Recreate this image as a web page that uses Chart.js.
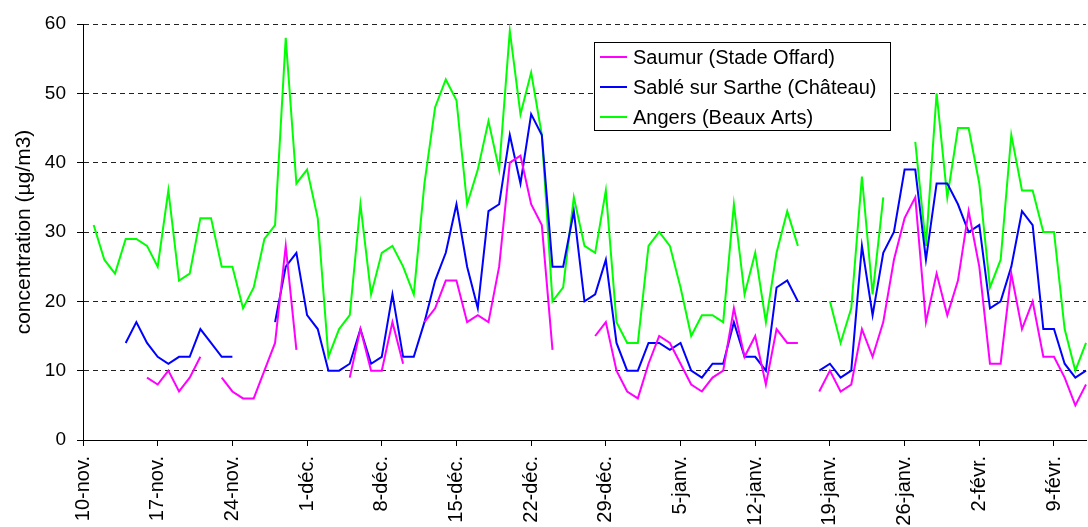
<!DOCTYPE html>
<html>
<head>
<meta charset="utf-8">
<script src="https://cdn.jsdelivr.net/npm/chart.js@4/dist/chart.umd.min.js"></script>
<style>
  body { margin: 0; background: #fff; overflow: hidden; }
  canvas { display: block; }
</style>
</head>
<body>
<canvas id="chart" width="1088" height="527"></canvas>
<script>
// daily measurements from 10-nov. to 12-févr.
const monthSpans = [["nov.", 10, 30], ["déc.", 1, 31], ["janv.", 1, 31], ["févr.", 1, 12]];
const days = [];
monthSpans.forEach(m => {
  for (let d = m[1]; d <= m[2]; d++) days.push(d + "-" + m[0]);
});

const seriesNames = ["Saumur (Stade Offard)", "Sablé sur Sarthe (Château)", "Angers (Beaux Arts)"];
const seriesColors = ["#ff00ff", "#0000ff", "#00ff00"];

const saumur = [
  null, null, null, null, null, null, 9, 8, 10, 7,
  9, 12, null, 9, 7, 6, 6, 10, 14, 28,
  13, null, null, null, null, 9, 16, 10, 10, 17,
  11, null, 17, 19, 23, 23, 17, 18, 17, 25,
  40, 41, 34, 31, 13, null, null, null, 15, 17,
  10, 7, 6, 11, 15, 14, 11, 8, 7, 9,
  10, 19, 12, 15, 8, 16, 14, 14, null, 7,
  10, 7, 8, 16, 12, 17, 26, 32, 35, 17,
  24, 18, 23, 33, 25, 11, 11, 24, 16, 20,
  12, 12, 9, 5, 8
];

const sable = [
  null, null, null, null, 14, 17, 14, 12, 11, 12,
  12, 16, 14, 12, 12, null, null, null, 17, 25,
  27, 18, 16, 10, 10, 11, 16, 11, 12, 21,
  12, 12, 17, 23, 27, 34, 25, 19, 33, 34,
  44, 37, 47, 44, 25, 25, 33, 20, 21, 26,
  14, 10, 10, 14, 14, 13, 14, 10, 9, 11,
  11, 17, 12, 12, 10, 22, 23, 20, null, 10,
  11, 9, 10, 28, 18, 27, 30, 39, 39, 26,
  37, 37, 34, 30, 31, 19, 20, 25, 33, 31,
  16, 16, 11, 9, 10
];

const angers = [
  null, 31, 26, 24, 29, 29, 28, 25, 36, 23,
  24, 32, 32, 25, 25, 19, 22, 29, 31, 58,
  37, 39, 32, 12, 16, 18, 34, 21, 27, 28,
  25, 21, 37, 48, 52, 49, 34, 39, 46, 39,
  59, 47, 53, 44, 20, 22, 35, 28, 27, 36,
  17, 14, 14, 28, 30, 28, 22, 15, 18, 18,
  17, 34, 21, 27, 17, 27, 33, 28, null, null,
  20, 14, 19, 38, 21, 35, null, null, 43, 28,
  50, 35, 45, 45, 37, 22, 26, 44, 36, 36,
  30, 30, 16, 10, 14
];

const yTicks = [0, 10, 20, 30, 40, 50, 60];
const FONT = "'Liberation Sans', Arial, sans-serif";

// legend box drawn inside the plot, like the original
const boxLegend = {
  id: "boxLegend",
  afterDraw(chart) {
    const ctx = chart.ctx;
    const x = 594, y = 42, w = 296, h = 88;
    ctx.save();
    ctx.fillStyle = "#fff";
    ctx.fillRect(x, y, w, h);
    ctx.strokeStyle = "#000";
    ctx.lineWidth = 1;
    ctx.strokeRect(x + 0.5, y + 0.5, w, h);
    ctx.font = "20px " + FONT;
    ctx.textBaseline = "middle";
    chart.data.datasets.forEach((ds, i) => {
      const cy = 57 + i * 30;
      ctx.strokeStyle = ds.borderColor;
      ctx.lineWidth = 2;
      ctx.beginPath();
      ctx.moveTo(x + 6, cy);
      ctx.lineTo(x + 33, cy);
      ctx.stroke();
      ctx.fillStyle = "#000";
      ctx.fillText(ds.label, x + 39, cy + 1);
    });
    ctx.restore();
  }
};

new Chart(document.getElementById("chart"), {
  type: "line",
  data: {
    labels: days,
    datasets: [saumur, sable, angers].map((vals, i) => ({
      label: seriesNames[i],
      data: vals,
      borderColor: seriesColors[i],
      backgroundColor: seriesColors[i],
      borderWidth: 2,
      pointRadius: 0,
      tension: 0,
      spanGaps: false
    }))
  },
  options: {
    responsive: false,
    animation: false,
    devicePixelRatio: 1,
    layout: { padding: { top: 24, right: 2, left: 0, bottom: 0 } },
    plugins: { legend: { display: false }, tooltip: { enabled: false } },
    scales: {
      x: {
        offset: false,
        afterFit(s) { s.height = 87; s.paddingLeft = 0; s.paddingRight = 0; },
        grid: {
          drawOnChartArea: false,
          drawTicks: true,
          tickLength: 6,
          color: c => (c.index % 7 === 0 ? "#000" : "rgba(0,0,0,0)")
        },
        border: { color: "#000", width: 1 },
        ticks: {
          autoSkip: false,
          minRotation: 90,
          maxRotation: 90,
          padding: 10,
          color: "#000",
          font: { family: FONT, size: 20 },
          callback: (v, i) => (i % 7 === 0 ? days[i] : "")
        }
      },
      y: {
        min: 0,
        max: 60,
        afterFit(s) { s.width = 83; s.paddingTop = 0; s.paddingBottom = 0; },
        afterBuildTicks(s) { s.ticks = yTicks.map(v => ({ value: v })); },
        grid: {
          color: "#222",
          lineWidth: 1,
          drawTicks: true,
          tickLength: 6,
          tickColor: "#000"
        },
        border: { color: "#000", width: 1, dash: [5, 4] },
        ticks: {
          padding: 11,
          color: "#000",
          font: { family: FONT, size: 19 }
        },
        title: {
          display: true,
          text: "concentration (µg/m3)",
          color: "#000",
          font: { family: FONT, size: 21 },
          padding: { top: 12, bottom: 0 }
        }
      }
    }
  },
  plugins: [boxLegend]
});
</script>
</body>
</html>
